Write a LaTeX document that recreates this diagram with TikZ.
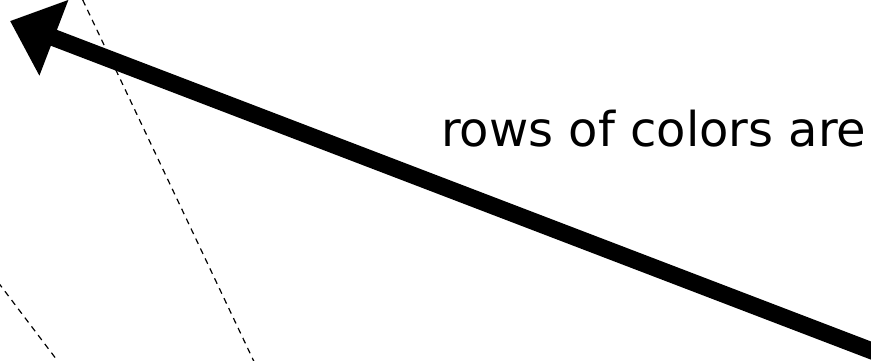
\documentclass[tikz,border=0pt]{standalone}
\usepackage{fontspec}
\setmainfont{DejaVu Sans}
\usetikzlibrary{arrows.meta}
\tikzset{
  guide/.style={draw=black, line width=1.2pt, dash pattern=on 6pt off 5pt},
  bigarrow/.style={draw=black, line width=17pt, -{Triangle[length=47pt,width=78pt]}},
  caption/.style={font=\fontsize{48}{56}\selectfont, inner sep=0pt, anchor=base west}
}
\begin{document}
\begin{tikzpicture}[x=1pt,y=-1pt]
\useasboundingbox (0,0) rectangle (871,360);
\clip (0,0) rectangle (871,360);
\coordinate (g1a) at (78,-10);
\coordinate (g1b) at (258,370);
\coordinate (g2a) at (-15,265);
\coordinate (g2b) at (63,368);
\draw[guide] (g1a) -- (g1b);
\draw[guide] (g2a) -- (g2b);
\coordinate (tail) at (880,354);
\coordinate (tip) at (10,21);
\draw[bigarrow] (tail) -- (tip);
\node[caption] (lbl) at (441,146) {rows of colors are};
\end{tikzpicture}
\end{document}
